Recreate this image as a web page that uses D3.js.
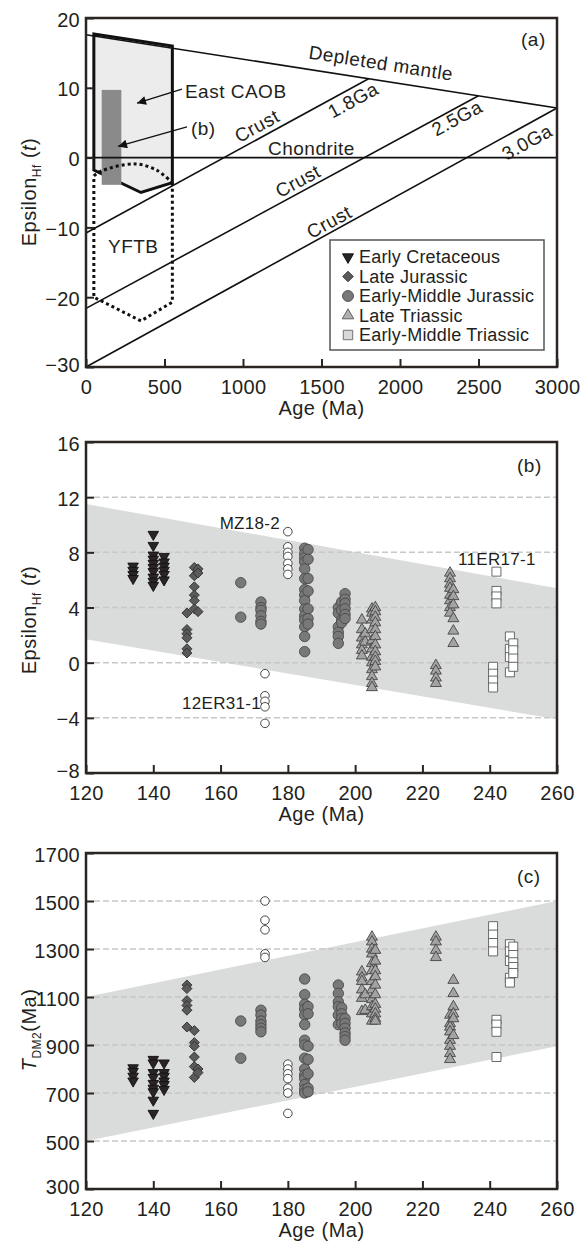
<!DOCTYPE html>
<html>
<head>
<meta charset="utf-8">
<style>
  body { margin: 0; background: #fff; }
  text { font-family: "Liberation Sans", Arial, sans-serif; fill: #231f20; }
  .frame { fill: none; stroke: #2a2523; stroke-width: 2.5px; }
  .grid { stroke: #c8c8c8; stroke-width: 1.5px; stroke-dasharray: 6 3; }
  .ref { fill: none; stroke: #111; stroke-width: 1.6px; }
  .axis text { font-size: 20px; letter-spacing: 0.3px; }
  .axis line { stroke: #2a2523; stroke-width: 2px; }
  .note { font-size: 19px; letter-spacing: 0.5px; }
  .title { font-size: 20px; letter-spacing: 0.5px; }
  .lab { font-size: 17px; letter-spacing: 0.3px; }
</style>
<script src="https://d3js.org/d3.v7.min.js"></script>
</head>
<body>
<script>
// ---- panel (a): evolution lines [age Ma, epsilon Hf]
var depletedMantle = [[0, 17.6], [3000, 7.1]];
var chondrite = [[0, 0], [3000, 0]];
var crust18 = [[0, -10.8], [1800, 11.3]];
var crust25 = [[0, -21.6], [2500, 8.85]];
var crust30 = [[0, -30], [3000, 7.1]];
var eastCaob = [[50, 17.7], [550, 16.0], [550, -3.6], [350, -5.0], [50, -1.8]];
var yftbArc = [[50, -2.6], [100, -1.9], [310, -0.9], [450, -1.8], [550, -3.6]];
var yftbBody = [[550, -3.6], [550, -20.7], [350, -23.4], [50, -20.0], [50, -2.6]];
var rangeB = [[100, -3.9], [225, 9.7]];

var groupNames = ["Early Cretaceous", "Late Jurassic", "Early-Middle Jurassic", "Late Triassic", "Early-Middle Triassic"];
var xTicksA = [0, 500, 1000, 1500, 2000, 2500, 3000];
var yTicksA = [-30, -20, -10, 0, 10, 20];
var xTicksBC = [120, 140, 160, 180, 200, 220, 240, 260];
var yTicksB = [-8, -4, 0, 4, 8, 12, 16];
var yTicksC = [300, 500, 700, 900, 1100, 1300, 1500, 1700];

// ---- panel (b): epsilon Hf(t), columns of [age, values]
var epsEC = [[134, [7.0, 6.7, 6.4, 6.1]], [140, [9.3, 8.5, 7.8, 7.5, 7.2, 6.9, 6.6, 6.2, 5.9, 5.6]], [143.2, [7.7, 7.3, 7.0, 6.7, 6.4, 6.0]]];
var epsLJ = [[150, [3.6, 2.4, 2.1, 1.8, 1.0, 0.7]], [152.2, [6.9, 6.3, 5.5, 4.9, 4.5, 3.9]], [153.3, [6.8, 6.5, 3.7]]];
var epsEMJ = [[166, [5.8, 3.3]], [172, [4.4, 4.0, 3.8, 3.4, 3.0, 2.8]],
  [185, [8.3, 7.9, 7.6, 7.3, 6.8, 6.1, 5.3, 4.9, 4.5, 3.9, 3.4, 3.1, 2.6, 1.9, 0.8]], [186, [8.2, 7.5, 6.1, 5.2, 3.9, 3.2, 2.8]],
  [195, [4.0, 3.6, 2.6, 2.2, 1.9, 1.4]], [196, [4.4, 3.8, 3.1, 2.9]], [197, [5.0, 4.6, 4.3, 3.9, 3.5, 3.2]]];
var epsOpen = [[173.2, [-0.8, -2.4, -2.8, -3.2, -4.4]], [180, [9.5, 8.4, 8.0, 7.7, 7.2, 6.8, 6.4]]];
var epsLT = [[202, [3.1, 2.4, 1.8, 1.3, 0.9, 0.5]], [203, [2.1, 1.5]],
  [205, [3.9, 3.6, 3.1, 2.4, 1.6, 1.0, 0.4, 0.0, -0.5, -1.0, -1.5, -1.8]], [206, [4.0, 3.7, 3.3, 2.9, 2.4, 1.9, 1.3, 0.8, 0.4, 0.1, -0.3]],
  [224, [-0.2, -0.6, -1.1, -1.5]], [228.2, [6.5, 6.1, 5.7, 5.4, 4.9, 4.5, 4.0, 3.6]], [229.2, [5.3, 4.8, 4.2, 3.2, 2.3, 1.4]]];
var epsEMT = [[241, [-0.3, -0.8, -1.3, -1.8]], [242, [6.6, 5.2, 4.8, 4.3]], [246, [1.9, 1.0, 0.4, -0.7]], [247, [1.4, 0.9, 0.3, -0.3]]];
var bandB = [[120, 11.5], [260, 5.4], [260, -4.1], [120, 1.7]];

// ---- panel (c): T_DM2 (Ma)
var tdmEC = [[134, [805, 790, 770, 750]], [140, [840, 825, 785, 765, 740, 720, 705, 670, 615]], [143.2, [825, 785, 770, 750, 735, 715]]];
var tdmLJ = [[150, [1150, 1135, 1085, 1065, 1045, 975]], [152.2, [960, 910, 895, 850, 810, 765]], [153.3, [800, 785]]];
var tdmEMJ = [[166, [1000, 845]], [172, [1045, 1025, 1000, 985, 970, 955]],
  [185, [1175, 1110, 1070, 1050, 1025, 985, 920, 900, 845, 800, 775, 760, 735, 715, 700]], [186, [1060, 1030, 895, 840, 780, 720, 705]],
  [195, [1150, 1115, 1080, 1060, 1025, 985]], [196, [1055, 1030, 1010, 990]], [197, [1010, 990, 970, 950, 935, 920]]];
var tdmOpen = [[173.2, [1500, 1420, 1380, 1280, 1265]], [180, [820, 800, 780, 760, 720, 700, 615]]];
var tdmLT = [[202, [1205, 1180, 1165, 1130, 1095, 1040]], [203, [1110, 1045]],
  [205, [1350, 1330, 1300, 1280, 1240, 1210, 1165, 1130, 1090, 1060, 1030, 1000]], [206, [1295, 1250, 1210, 1185, 1150, 1110, 1070, 1050, 1030, 1010, 1000]],
  [224, [1350, 1330, 1295, 1265]], [228.2, [1025, 990, 975, 955, 920, 895, 865, 840]], [229.2, [1170, 1115, 1060, 1030, 1010, 940]]];
var tdmEMT = [[241, [1395, 1360, 1325, 1290]], [242, [1005, 985, 955, 850]], [246, [1320, 1290, 1250, 1180, 1160]], [247, [1310, 1275, 1245, 1225, 1200]]];
var bandC = [[120, 1100], [260, 1500], [260, 895], [120, 500]];

// ---- drawing
var svg = d3.select('body').append('svg').attr('width', 582).attr('height', 1242);

svg.append('defs').append('marker')
  .attr('id', 'arr').attr('viewBox', '0 0 10 10').attr('refX', 10).attr('refY', 5)
  .attr('markerUnits', 'userSpaceOnUse').attr('markerWidth', 14).attr('markerHeight', 9)
  .attr('orient', 'auto')
  .append('path').attr('d', 'M0,0L10,5L0,10z').attr('fill', '#111');

var styles = [
  {shape: d3.symbolTriangle, size: 48, rot: 180, fill: '#2a2424', stroke: '#111'},
  {shape: d3.symbolSquare, size: 50, rot: 45, fill: '#5a5a5a', stroke: '#333'},
  {shape: d3.symbolCircle, size: 85, rot: 0, fill: '#787878', stroke: '#4a4a4a'},
  {shape: d3.symbolTriangle, size: 52, rot: 0, fill: '#a3a3a3', stroke: '#444'},
  {shape: d3.symbolSquare, size: 81, rot: 0, fill: '#fff', stroke: '#5a5a5a'}
];
var openStyle = {shape: d3.symbolCircle, size: 58, rot: 0, fill: '#fff', stroke: '#333'};

function axes(x, y, xv, yv) {
  var bottom = y.range()[0], top = y.range()[1];
  svg.append('g').attr('class', 'axis').attr('transform', 'translate(0,' + bottom + ')')
    .call(d3.axisBottom(x).tickValues(xv).tickSize(-8).tickPadding(13).tickFormat(d3.format('d')))
    .call(function(g) { g.select('.domain').remove(); });
  svg.append('g').attr('class', 'axis').attr('transform', 'translate(' + x.range()[0] + ',0)')
    .call(d3.axisLeft(y).tickValues(yv).tickSize(-8).tickPadding(6).tickFormat(d3.format('d')))
    .call(function(g) {
      g.select('.domain').remove();
      g.selectAll('text').attr('dy', function(d, i) { return i === 0 ? '0.2em' : '0.4em'; });
    });
  svg.append('rect').attr('class', 'frame')
    .attr('x', x.range()[0]).attr('y', top)
    .attr('width', x.range()[1] - x.range()[0]).attr('height', bottom - top);
  svg.append('text').attr('class', 'title').attr('text-anchor', 'middle')
    .attr('x', (x.range()[0] + x.range()[1]) / 2).attr('y', bottom + 48)
    .text('Age (Ma)');
}

function epsLabel(cy) {
  var t = svg.append('text').attr('class', 'title').attr('text-anchor', 'middle')
    .attr('transform', 'translate(36,' + cy + ') rotate(-90)');
  t.append('tspan').text('Epsilon');
  t.append('tspan').attr('font-size', 12).attr('dy', 5).text('Hf');
  t.append('tspan').attr('dy', -5).text(' (');
  t.append('tspan').attr('font-style', 'italic').text('t');
  t.append('tspan').text(')');
}

function points(x, y, cols, st) {
  var flat = [];
  cols.forEach(function(c) { c[1].forEach(function(v) { flat.push([c[0], v]); }); });
  svg.append('g').selectAll('path').data(flat).enter().append('path')
    .attr('d', d3.symbol().type(st.shape).size(st.size))
    .attr('transform', function(d) { return 'translate(' + x(d[0]) + ',' + y(d[1]) + ') rotate(' + st.rot + ')'; })
    .attr('fill', st.fill).attr('stroke', st.stroke).attr('stroke-width', 0.9);
}

function grid(x, y, vals) {
  svg.append('g').selectAll('line').data(vals).enter().append('line')
    .attr('class', 'grid')
    .attr('x1', x.range()[0] + 8).attr('x2', x.range()[1])
    .attr('y1', function(d) { return y(d); }).attr('y2', function(d) { return y(d); });
}

// ---------- (a)
var xa = d3.scaleLinear().domain([0, 3000]).range([86, 557]);
var ya = d3.scaleLinear().domain([-30, 20]).range([367, 18]);
var lineA = d3.line().x(function(d) { return xa(d[0]); }).y(function(d) { return ya(d[1]); });

svg.append('path').attr('d', lineA(eastCaob) + 'Z')
  .attr('fill', '#ececec').attr('stroke', '#111').attr('stroke-width', 3).attr('stroke-linejoin', 'miter');
svg.append('rect')
  .attr('x', xa(rangeB[0][0])).attr('y', ya(rangeB[1][1]))
  .attr('width', xa(rangeB[1][0]) - xa(rangeB[0][0])).attr('height', ya(rangeB[0][1]) - ya(rangeB[1][1]))
  .attr('fill', '#8a8a8a');
svg.append('path').attr('d', lineA.curve(d3.curveCatmullRom)(yftbArc))
  .attr('fill', 'none').attr('stroke', '#111').attr('stroke-width', 3).attr('stroke-dasharray', '3 3');
lineA.curve(d3.curveLinear);
svg.append('path').attr('d', lineA(yftbBody))
  .attr('fill', 'none').attr('stroke', '#111').attr('stroke-width', 3).attr('stroke-dasharray', '3 3');

[depletedMantle, chondrite, crust18, crust25, crust30].forEach(function(l) {
  svg.append('path').attr('class', 'ref').attr('d', lineA(l));
});

function angleOf(l) {
  return Math.atan2(ya(l[1][1]) - ya(l[0][1]), xa(l[1][0]) - xa(l[0][0])) * 180 / Math.PI;
}
var notesA = [
  ['Depleted mantle', 1879, 13.55, depletedMantle],
  ['Crust', 1089, 4.53, crust18], ['1.8Ga', 1701, 8.25, crust18],
  ['Crust', 1350, -3.35, crust25], ['2.5Ga', 2363, 5.67, crust25],
  ['Crust', 1548, -9.2, crust30], ['3.0Ga', 2809, 2.23, crust30]
];
notesA.forEach(function(n) {
  svg.append('text').attr('class', 'note').attr('text-anchor', 'middle').attr('dy', '0.35em')
    .attr('transform', 'translate(' + xa(n[1]) + ',' + ya(n[2]) + ') rotate(' + angleOf(n[3]) + ')')
    .text(n[0]);
});
svg.append('text').attr('class', 'note').attr('x', xa(1159)).attr('y', ya(0) - 3).text('Chondrite');
svg.append('text').attr('class', 'note').attr('x', xa(630)).attr('y', ya(8.5)).text('East CAOB');
svg.append('text').attr('class', 'note').attr('x', xa(668)).attr('y', ya(3.2)).text('(b)');
svg.append('text').attr('class', 'note').attr('x', xa(140)).attr('y', ya(-13.7)).text('YFTB');
svg.append('line').attr('x1', xa(611)).attr('y1', ya(9.8)).attr('x2', xa(325)).attr('y2', ya(7.8))
  .attr('stroke', '#111').attr('stroke-width', 1.4).attr('marker-end', 'url(#arr)');
svg.append('line').attr('x1', xa(643)).attr('y1', ya(4.4)).attr('x2', xa(204)).attr('y2', ya(1.6))
  .attr('stroke', '#111').attr('stroke-width', 1.4).attr('marker-end', 'url(#arr)');

// legend
var leg = svg.append('g').attr('transform', 'translate(330,240)');
leg.append('rect').attr('width', 214).attr('height', 110).attr('fill', '#fff').attr('stroke', '#555').attr('stroke-width', 1.5);
var legFill = ['#2a2424', '#5a5a5a', '#787878', '#b0b0b0', '#d9d9d9'];
var legStroke = ['#111', '#333', '#4a4a4a', '#555', '#666'];
groupNames.forEach(function(name, i) {
  var st = styles[i];
  leg.append('path').attr('d', d3.symbol().type(st.shape).size(st.size * 1.1))
    .attr('transform', 'translate(18,' + (17 + i * 19.5) + ') rotate(' + st.rot + ')')
    .attr('fill', legFill[i]).attr('stroke', legStroke[i]).attr('stroke-width', 0.9);
  leg.append('text').attr('x', 29).attr('y', 17 + i * 19.5).attr('dy', '0.35em')
    .attr('font-size', 18).attr('letter-spacing', 0.2).text(name);
});
axes(xa, ya, xTicksA, yTicksA);
svg.append('text').attr('class', 'note').attr('x', 521).attr('y', 46).text('(a)');
epsLabel(192);

// ---------- (b)
var xb = d3.scaleLinear().domain([120, 260]).range([86, 557]);
var yb = d3.scaleLinear().domain([-8, 16]).range([773, 442]);
var lineB = d3.line().x(function(d) { return xb(d[0]); }).y(function(d) { return yb(d[1]); });
svg.append('path').attr('d', lineB(bandB) + 'Z').attr('fill', '#dadbdb');
grid(xb, yb, [-4, 0, 4, 8, 12]);
[epsEC, epsLJ, epsEMJ, epsLT, epsEMT].forEach(function(cols, i) { points(xb, yb, cols, styles[i]); });
points(xb, yb, epsOpen, openStyle);
svg.append('text').attr('class', 'lab').attr('text-anchor', 'end').attr('x', 280).attr('y', 529).text('MZ18-2');
svg.append('text').attr('class', 'lab').attr('x', 182).attr('y', 709).text('12ER31-1');
svg.append('text').attr('class', 'lab').attr('x', 458).attr('y', 565).text('11ER17-1');
axes(xb, yb, xTicksBC, yTicksB);
svg.append('text').attr('class', 'note').attr('x', 517).attr('y', 472).text('(b)');
epsLabel(620);

// ---------- (c)
var yc = d3.scaleLinear().domain([300, 1700]).range([1189, 853]);
var lineC = d3.line().x(function(d) { return xb(d[0]); }).y(function(d) { return yc(d[1]); });
svg.append('path').attr('d', lineC(bandC) + 'Z').attr('fill', '#dadbdb');
grid(xb, yc, [500, 700, 900, 1100, 1300, 1500]);
[tdmEC, tdmLJ, tdmEMJ, tdmLT, tdmEMT].forEach(function(cols, i) { points(xb, yc, cols, styles[i]); });
points(xb, yc, tdmOpen, openStyle);
axes(xb, yc, xTicksBC, yTicksC);
svg.append('text').attr('class', 'note').attr('x', 517).attr('y', 883).text('(c)');
var tl = svg.append('text').attr('class', 'title').attr('text-anchor', 'middle')
  .attr('transform', 'translate(36,1030) rotate(-90)');
tl.append('tspan').attr('font-style', 'italic').text('T');
tl.append('tspan').attr('font-size', 12).attr('dy', 5).text('DM2');
tl.append('tspan').attr('dy', -5).text('(Ma)');
</script>
</body>
</html>
